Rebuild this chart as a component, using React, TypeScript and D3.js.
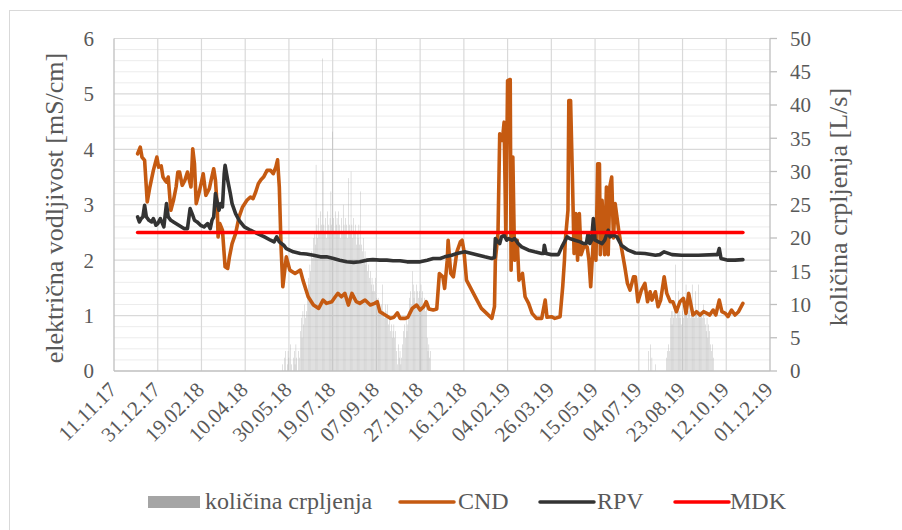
import React from "react";
import * as d3 from "d3";

// x axis: days counted from 11.11.17, major unit 50 days
const tickStepDays = 50;
const tickLabels = ["11.11.17","31.12.17","19.02.18","10.04.18","30.05.18","19.07.18","07.09.18","27.10.18","16.12.18","04.02.19","26.03.19","15.05.19","04.07.19","23.08.19","12.10.19","01.12.19"];
const leftTicks = [0,1,2,3,4,5,6];
const rightTicks = [0,5,10,15,20,25,30,35,40,45,50];

// CND – electrical conductivity [mS/cm]
const cndDay = [27,30,32,35,38,41,45,49,51,54,56,58,60,62,65,68,71,73,75,78,81,84,88,90,92,94,97,100,102,105,109,111,114,116,118,119,121,124,127,130,132,135,139,143,147,152,156,159,162,165,168,171,175,179,182,185,187,189,191,193,197,201,207,213,216,222,228,234,239,243,249,253,256,260,264,268,272,277,281,287,293,298,301,304,310,316,320,324,327,333,336,341,346,350,354,357,360,365,369,372,376,378,381,382,385,388,392,396,398,400,403,409,415,420,426,432,435,436,439,441,444,446,448,450,453,454,456,458,461,463,467,470,474,478,483,489,493,495,500,504,510,513,515,516,519,520,522,524,526,528,530,532,534,537,541,543,545,548,551,553,555,556,558,561,563,565,567,569,571,573,577,580,584,587,590,594,596,599,603,607,610,613,615,619,622,625,629,632,636,639,643,647,651,654,657,660,662,666,670,674,678,681,685,688,692,695,699,702,706,710,714,719];
const cndValue = [3.92,4.04,3.86,3.80,3.05,3.32,3.62,3.86,3.68,3.70,3.50,3.45,3.41,3.50,2.90,3.08,3.32,3.59,3.59,3.35,3.44,3.59,3.32,4.01,3.74,3.02,3.20,3.41,3.56,3.17,3.29,3.44,3.65,3.44,2.96,2.42,2.66,2.54,1.88,1.85,2.06,2.30,2.48,2.78,2.96,3.08,3.14,3.11,3.23,3.38,3.45,3.50,3.62,3.62,3.56,3.68,3.81,3.32,2.24,1.52,2.06,1.82,1.76,1.82,1.64,1.34,1.19,1.13,1.28,1.22,1.25,1.34,1.40,1.34,1.40,1.19,1.40,1.25,1.22,1.28,1.19,1.22,1.25,1.07,1.01,0.95,0.97,1.05,0.95,0.95,0.97,1.13,1.19,1.10,1.16,1.25,1.12,1.10,1.12,1.76,1.70,1.49,2.00,2.36,1.76,1.70,2.15,2.33,2.36,2.18,1.64,1.46,1.28,1.13,1.04,0.95,1.16,2.00,2.48,4.28,4.16,4.49,2.42,5.24,5.26,1.82,3.86,2.00,2.36,1.64,1.76,1.34,1.22,1.04,0.95,0.95,1.28,0.97,0.98,0.95,0.98,1.52,2.00,2.36,2.90,4.88,4.88,3.56,2.12,2.84,2.00,2.84,2.10,2.24,2.24,2.00,1.52,2.36,2.00,3.74,3.74,2.10,3.08,2.10,3.32,2.10,3.34,3.50,2.40,3.02,2.54,2.24,1.88,1.58,1.46,1.70,1.70,1.25,1.46,1.58,1.25,1.43,1.28,1.43,1.16,1.28,1.70,1.40,1.25,1.25,1.07,1.25,1.31,1.04,1.40,1.16,1.01,1.07,1.01,1.07,1.04,1.01,1.10,1.01,1.28,1.07,1.04,0.98,1.10,1.01,1.07,1.22];

// RPV – electrical conductivity [mS/cm]
const rpvDay = [27,29,31,33,35,37,40,43,45,48,50,53,57,60,62,65,68,74,80,84,87,90,92,95,99,103,107,110,112,114,116,118,120,122,124,126,127,130,133,135,139,143,149,156,164,172,179,183,186,189,194,197,205,213,220,228,236,243,251,258,266,274,281,289,296,304,312,319,327,335,342,350,358,365,373,378,386,392,401,409,417,424,432,435,436,439,441,443,446,449,451,455,458,462,466,474,481,489,491,492,494,500,508,512,515,518,521,527,533,537,540,542,544,546,548,550,554,558,561,565,567,571,575,580,588,596,607,619,624,629,638,649,668,687,690,692,694,702,710,719];
const rpvValue = [2.78,2.69,2.75,2.78,2.99,2.78,2.72,2.69,2.75,2.63,2.66,2.75,2.60,3.02,2.78,2.72,2.69,2.63,2.57,2.57,2.93,2.81,2.72,2.69,2.63,2.60,2.66,2.57,2.72,2.78,3.20,3.05,2.90,3.02,2.96,3.56,3.71,3.44,3.20,3.02,2.84,2.72,2.60,2.54,2.48,2.42,2.36,2.33,2.42,2.33,2.27,2.21,2.15,2.12,2.11,2.09,2.06,2.06,2.03,2.00,1.97,1.96,1.97,2.00,2.01,2.00,2.00,1.99,1.99,1.97,1.97,1.97,2.00,2.03,2.03,2.06,2.09,2.12,2.15,2.12,2.09,2.06,2.03,2.05,2.39,2.33,2.30,2.42,2.45,2.36,2.39,2.36,2.39,2.30,2.24,2.18,2.15,2.12,2.12,2.27,2.12,2.10,2.10,2.24,2.33,2.42,2.39,2.36,2.33,2.30,2.30,2.48,2.30,2.36,2.75,2.36,2.33,2.30,2.36,2.54,2.42,2.45,2.42,2.27,2.18,2.13,2.12,2.09,2.10,2.15,2.10,2.09,2.09,2.10,2.10,2.21,2.03,2.00,2.00,2.01];

// MDK – limit value
const mdkDay = [27, 719];
const mdkValue = [2.5, 2.5];

// količina crpljenja [L/s], daily values
const pump1StartDay = 193;
const pump1 = [1,0,2,3,0,1,3,2,0,4,1,0,2,3,1,4,2,0,3,2,6,8,5,9,7,10,8,9,12,14,13,16,15,18,17,20,21,19,31,22,20,23,21,24,22,47,30,22,21,23,20,24,22,21,23,27,22,36,23,21,24,22,23,21,24,22,20,23,21,25,22,21,23,22,20,29,22,21,30,22,20,23,21,22,19,21,20,22,19,27,19,18,20,17,18,16,17,15,16,14,15,13,14,12,13,12,14,11,10,11,9,10,9,10,13,9,8,10,9,8,10,7,8,6,7,5,6,7,5,6,3,1,4,2,3,1,2,4,6,7,5,8,6,7,9,11,12,10,15,13,11,12,10,13,12,11,12,10,13,11,12,10,11,9,10,5,3,4,2,3];
const pump2StartDay = 611;
const pump2 = [3,0,4,0,2,0,0,0,1,0,0,0,0,0,0,0,0,0,0,0,0,2,3,4,3,8,9,7,9,8,9,16,8,9,12,8,9,8,7,9,8,11,9,13,9,8,9,12,8,9,13,8,9,8,12,9,8,13,9,8,9,9,8,10,8,7,6,8,5,7,6,4,3,4,2];

const legendItems = ["količina crpljenja", "CND", "RPV", "MDK"];

const FONT = "'Liberation Serif', 'DejaVu Serif', serif";
const TEXT = "#595959";
const C_CND = "#C55A11";
const C_RPV = "#333333";
const C_MDK = "#FF0000";
const C_BAR = "#A5A5A5";

export default function App() {
  const W = 902, H = 530;
  const left = 114, right = 770, top = 38.5, bottom = 371;
  const maxDay = tickStepDays * (tickLabels.length - 1);
  const x = d3.scaleLinear().domain([0, maxDay]).range([left, right]);
  const yL = d3.scaleLinear().domain([0, 6]).range([bottom, top]);
  const yR = d3.scaleLinear().domain([0, 50]).range([bottom, top]);

  const toPts = (days: number[], vals: number[]) =>
    days.slice(0, Math.min(days.length, vals.length)).map((d, i) => [d, vals[i]] as [number, number]);
  const line = d3.line<[number, number]>().x(d => x(d[0])).y(d => yL(d[1]));

  const bars: { day: number; v: number }[] = [];
  pump1.forEach((v, i) => bars.push({ day: pump1StartDay + i, v }));
  pump2.forEach((v, i) => bars.push({ day: pump2StartDay + i, v }));
  const barW = (x(1) - x(0)) * 0.4;

  const minor = d3.range(0, 6.0001, 0.2).filter(v => Math.abs(v - Math.round(v)) > 1e-6);

  const legendLayout = [
    { kind: "bar", sx: 148, tx: 205, color: C_BAR },
    { kind: "line", sx: 400, tx: 458, color: C_CND },
    { kind: "line", sx: 540, tx: 597, color: C_RPV },
    { kind: "line", sx: 675, tx: 730, color: C_MDK },
  ];
  const ts = (size: number): React.CSSProperties => ({ fontFamily: FONT, fontSize: size + "px", fill: TEXT });

  return (
    <svg width={W} height={H} style={{ position: "absolute", left: 0, top: 0, background: "#fff" }}>
      <rect x={9.5} y={10.5} width={900} height={530} fill="#fff" stroke="#d9d9d9" strokeWidth={1} />
      {minor.map((v, i) => (
        <line key={"mi" + i} x1={left} x2={right} y1={yL(v)} y2={yL(v)} stroke="#ececec" strokeWidth={1} />
      ))}
      {tickLabels.map((_, i) => i > 0 && i < tickLabels.length - 1 ? (
        <line key={"vg" + i} x1={x(i * tickStepDays)} x2={x(i * tickStepDays)} y1={top} y2={bottom} stroke="#d9d9d9" strokeWidth={1.2} />
      ) : null)}
      {leftTicks.map(v => v > 0 ? (
        <line key={"mg" + v} x1={left} x2={right} y1={yL(v)} y2={yL(v)} stroke="#d9d9d9" strokeWidth={1.2} />
      ) : null)}
      {bars.map((b, i) => b.v > 0 ? (
        <rect key={"b" + i} x={x(b.day) - barW / 2} y={yR(b.v)} width={barW} height={bottom - yR(b.v)} fill={C_BAR} />
      ) : null)}
      <line x1={left} x2={left} y1={top} y2={bottom} stroke="#bfbfbf" strokeWidth={1.3} />
      <line x1={right} x2={right} y1={top} y2={bottom} stroke="#bfbfbf" strokeWidth={1.3} />
      <line x1={left} x2={right} y1={bottom} y2={bottom} stroke="#bfbfbf" strokeWidth={1.3} />
      {rightTicks.map(v => (
        <line key={"rt" + v} x1={right} x2={right + 7} y1={yR(v)} y2={yR(v)} stroke="#bfbfbf" strokeWidth={1.3} />
      ))}
      <path d={line(toPts(cndDay, cndValue)) || ""} fill="none" stroke={C_CND} strokeWidth={3.6} strokeLinejoin="round" strokeLinecap="round" />
      <path d={line(toPts(rpvDay, rpvValue)) || ""} fill="none" stroke={C_RPV} strokeWidth={3.6} strokeLinejoin="round" strokeLinecap="round" />
      <path d={line(toPts(mdkDay, mdkValue)) || ""} fill="none" stroke={C_MDK} strokeWidth={3.6} strokeLinecap="round" />
      {leftTicks.map(v => (
        <text key={"lt" + v} x={94} y={yL(v)} dy="0.35em" textAnchor="end" style={ts(21)}>{v}</text>
      ))}
      {rightTicks.map(v => (
        <text key={"rl" + v} x={790} y={yR(v)} dy="0.35em" textAnchor="start" style={ts(21)}>{v}</text>
      ))}
      {tickLabels.map((t, i) => (
        <text key={"dl" + i} transform={`translate(${x(i * tickStepDays) + 4},${391}) rotate(-45)`} textAnchor="end" style={ts(21)}>{t}</text>
      ))}
      <text transform="translate(63,208) rotate(-90)" textAnchor="middle" style={ts(26)}>električna vodljivost [mS/cm]</text>
      <text transform="translate(847,207) rotate(-90)" textAnchor="middle" style={ts(26)}>količina crpljenja [L/s]</text>
      {legendLayout.map((l, i) => (
        <g key={"lg" + i}>
          {l.kind === "bar" ? (
            <rect x={l.sx} y={496} width={52} height={12} fill={l.color} />
          ) : (
            <line x1={l.sx} x2={l.sx + 54} y1={502} y2={502} stroke={l.color} strokeWidth={3.5} strokeLinecap="round" />
          )}
          <text x={l.tx} y={509} style={ts(24)}>{legendItems[i]}</text>
        </g>
      ))}
    </svg>
  );
}
